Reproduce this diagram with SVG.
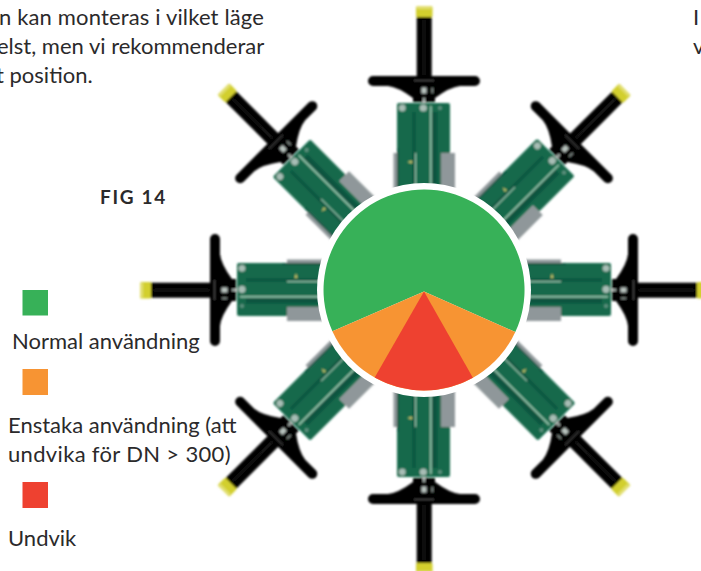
<svg xmlns="http://www.w3.org/2000/svg" width="701" height="571" viewBox="0 0 701 571">
<style>
text{font-family:"Lato","Liberation Sans",sans-serif;font-size:22px;fill:#2b2a2b}
.b{fill:#14694b}.d{fill:#0c5540}.l{fill:#9ccbb3}.g{fill:#8f979a}.k{fill:#060606}.s{fill:#a8bdb5}
.act{filter:url(#soft)}
</style>
<defs>
<filter id="soft" x="-10%" y="-10%" width="120%" height="120%"><feGaussianBlur stdDeviation="0.8"/></filter>
<g id="actuator">
<rect class="g" x="393.5" y="153" width="8" height="38"/>
<path class="g" d="M441,153H455V191H441Z"/>
<path class="b" d="M397,105Q397,103 399,103H448Q450,103 450,105V153H441V191H399V153H397Z"/>
<rect class="d" x="412.5" y="112" width="3" height="79"/>
<rect class="d" x="431.500" y="112" width="6" height="79"/>
<rect class="d" x="397" y="148" width="2" height="43"/>
<rect class="l" x="430" y="106" width="1.600" height="85"/>
<rect class="l" x="415" y="153" width="1.200" height="38"/>
<path d="M407,162l5,-1.500v3z" fill="#c9c86a"/>
<circle class="s" cx="402.300" cy="108" r="3.400"/>
<circle class="s" cx="423.300" cy="108" r="3.600"/>
<circle class="s" cx="440" cy="108" r="2" opacity=".5"/>
<rect class="k" x="416.700" y="15" width="15" height="65"/>
<rect x="423.600" y="20" width="1" height="55" fill="#2a2a2a"/>
<path class="k" d="M373,76H475A5,5 0 0 1 475,86H460Q450,87 435,98V102H413V98Q398,87 388,86H373A5,5 0 0 1 373,76Z"/>
<path d="M414,80.500H434" stroke="#4a4a4a" stroke-width="1" fill="none"/>
<rect x="421.500" y="87.500" width="5" height="6" fill="#b9c4bf"/>
<rect x="431.500" y="88" width="1.600" height="5" fill="#8a9590"/>
<rect x="422.800" y="98" width="2.400" height="4" fill="#a8b3ae"/>
<rect x="416" y="6" width="16.500" height="11" rx="1.500" fill="#d2cf2e"/>
<rect x="417" y="6" width="14.500" height="3" fill="#e2df70"/>
</g>
</defs>
<rect width="701" height="571" fill="#fff"/>
<g id="connectors"></g>
<g id="actuator-n" class="act"><use href="#actuator"/></g>
<g id="actuator-ne" class="act"><use href="#actuator" transform="rotate(45 424 290)"/></g>
<g id="actuator-e" class="act"><use href="#actuator" transform="rotate(90 424 290)"/></g>
<g id="actuator-se" class="act"><use href="#actuator" transform="rotate(135 424 290)"/></g>
<g id="actuator-s" class="act"><use href="#actuator" transform="translate(0 580) scale(1 -1)"/></g>
<g id="actuator-sw" class="act"><use href="#actuator" transform="translate(848 0) scale(-1 1) rotate(135 424 290)"/></g>
<g id="actuator-w" class="act"><use href="#actuator" transform="translate(848 0) scale(-1 1) rotate(90 424 290)"/></g>
<g id="actuator-nw" class="act"><use href="#actuator" transform="rotate(-45 424 290)"/></g>
<g id="dial">
<circle cx="424" cy="290" r="107" fill="#fff"/>
<path d="M424,291.500L332.400,331.300A100.500,100.500 0 1 1 515.300,332.100Z" fill="#37b158"/>
<path d="M424,291.500L332.400,331.300A100.500,100.500 0 0 0 515.300,332.100Z" fill="#f79433"/>
<path d="M424,291.500L374.700,377.600A100.500,100.500 0 0 0 472.900,377.800Z" fill="#ee4130"/>
</g>
<g id="intro-left">
<text x="-1" y="25" style="letter-spacing:.15px">n kan monteras i vilket läge</text>
<text x="-3" y="54">elst, men vi rekommenderar</text>
<text x="-4" y="83">t position.</text>
</g>
<g id="intro-right">
<text x="693" y="25">I</text>
<text x="693" y="54">v</text>
</g>
<text id="fig" x="100" y="204" style="font-weight:700;font-size:19px;letter-spacing:1.700px">FIG 14</text>
<g id="legend-normal"><rect x="22.500" y="290" width="25.500" height="25.500" fill="#37b158"/><text x="12" y="349">Normal användning</text></g>
<g id="legend-enstaka"><rect x="22.500" y="369" width="25.500" height="26" fill="#f79433"/><text x="8" y="433">Enstaka användning (att</text><text x="8" y="462" style="letter-spacing:.33px">undvika för DN &gt; 300)</text></g>
<g id="legend-undvik"><rect x="22.500" y="482" width="25.500" height="26" fill="#ee4130"/><text x="8" y="546">Undvik</text></g>
</svg>
